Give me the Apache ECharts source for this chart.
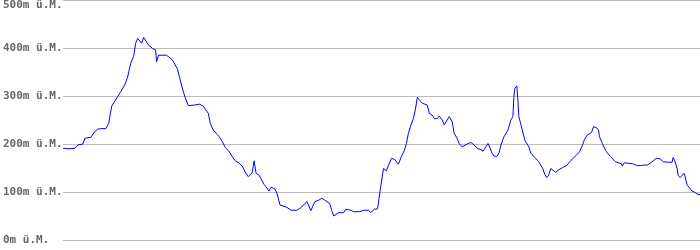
<!DOCTYPE html>
<html>
<head>
<meta charset="utf-8">
<script src="https://cdn.jsdelivr.net/npm/echarts@6/dist/echarts.min.js"></script>
<style>
html,body{margin:0;padding:0;background:#fff;}
#chart{width:700px;height:250px;}
</style>
</head>
<body>
<div id="chart"></div>
<script>
// distance along the route (m)
var distanceM = [0,300,600,750,1000,1100,1400,1600,1750,1900,
2150,2300,2350,2450,2550,2600,2750,2900,3100,3250,
3400,3550,3650,3750,3850,3950,4050,4150,4300,4500,
4650,4700,4800,4900,5200,5500,5750,6000,6150,6300,
6600,6850,7050,7150,7300,7400,7550,7750,7850,8000,
8150,8350,8500,8650,8850,9000,9150,9300,9400,9500,
9600,9700,9850,9950,10100,10350,10450,10650,10750,10900,
11000,11250,11350,11450,11750,11900,12100,12250,12350,12450,
12650,12850,13000,13150,13400,13500,13600,13850,14100,14200,
14450,14600,14700,14900,15100,15350,15450,15650,15800,15950,
16100,16200,16250,16350,16500,16650,16750,16850,17000,17150,
17250,17350,17450,17600,17700,17800,17900,18050,18150,18300,
18400,18550,18650,18800,18900,19050,19150,19250,19400,19550,
19650,19800,19900,20050,20150,20350,20500,20650,20800,20950,
21100,21200,21350,21450,21550,21650,21800,21900,22000,22150,
22350,22500,22600,22650,22700,22800,22850,22900,23050,23200,
23400,23500,23700,23900,24100,24200,24300,24400,24500,24600,
24750,24900,25100,25300,25450,25600,25800,25950,26100,26200,
26350,26450,26550,26650,26800,26900,26950,27100,27150,27250,
27350,27500,27600,27750,27850,28050,28100,28200,28350,28450,
28600,28700,28850,29000,29150,29350,29500,29650,29800,29900,
30000,30150,30400,30600,30650,30750,30850,30900,31000,31100,
31200,31250,31350,31450,31600,31750,31900,32000];

// elevation (m ü.M.)
var elevationM = [191,190,191,198,200,212,214,226,231,232,
232,243,257,279,286,283,299,309,323,340,
368,383,410,420,420,410,422,418,406,399,
396,371,385,386,385,375,356,315,295,280,
281,283,279,272,264,243,229,220,215,205,
193,184,174,165,160,154,142,132,132,140,
165,139,135,131,116,102,110,106,97,73,
69,68,69,62,62,66,73,80,71,61,
80,83,87,83,76,61,50,57,57,64,
62,59,61,59,62,62,57,64,65,108,
149,149,144,156,170,168,167,158,174,187,
201,222,236,253,271,297,292,285,283,281,
264,260,253,253,258,250,240,243,257,247,
222,212,201,194,194,201,203,198,191,189,
185,181,201,192,181,175,174,181,198,215,
229,250,257,299,316,321,292,257,233,208,
194,181,172,163,149,137,130,135,149,146,
141,146,151,155,163,169,177,184,198,210,
219,220,224,236,234,229,215,201,196,187,
181,174,170,163,160,159,154,161,160,162,
159,160,155,155,156,156,160,165,170,173,
169,163,162,162,172,163,149,135,130,128,
139,132,115,111,102,99,95,95];

var yMin = 0, yMax = 500, yStep = 100;
var unitLabel = 'm ü.M.';
var totalDistance = 32000;

var points = distanceM.map(function (d, i) { return [d, elevationM[i]]; });

var chart = echarts.init(document.getElementById('chart'), null, {renderer: 'canvas'});
chart.setOption({
  animation: false,
  backgroundColor: '#ffffff',
  grid: {left: 60, right: 0, top: 0, bottom: 10, containLabel: false},
  xAxis: {
    type: 'value', min: 0, max: totalDistance, show: false
  },
  yAxis: {
    type: 'value', min: yMin, max: yMax, interval: yStep,
    axisLine: {show: false},
    axisTick: {show: false},
    splitLine: {show: true, lineStyle: {color: '#bbbbbb', width: 1}},
    axisLabel: {
      formatter: function (v) { return v + unitLabel; },
      align: 'left',
      margin: 60,
      color: '#666666',
      fontFamily: 'DejaVu Sans Mono',
      fontWeight: 'bold',
      fontSize: 11,
      verticalAlignMaxLabel: 'top'
    }
  },
  series: [{
    type: 'line',
    data: points,
    showSymbol: false,
    symbol: 'none',
    smooth: false,
    lineStyle: {color: '#0000ff', width: 1},
    itemStyle: {color: '#0000ff'}
  }]
});
</script>
</body>
</html>
